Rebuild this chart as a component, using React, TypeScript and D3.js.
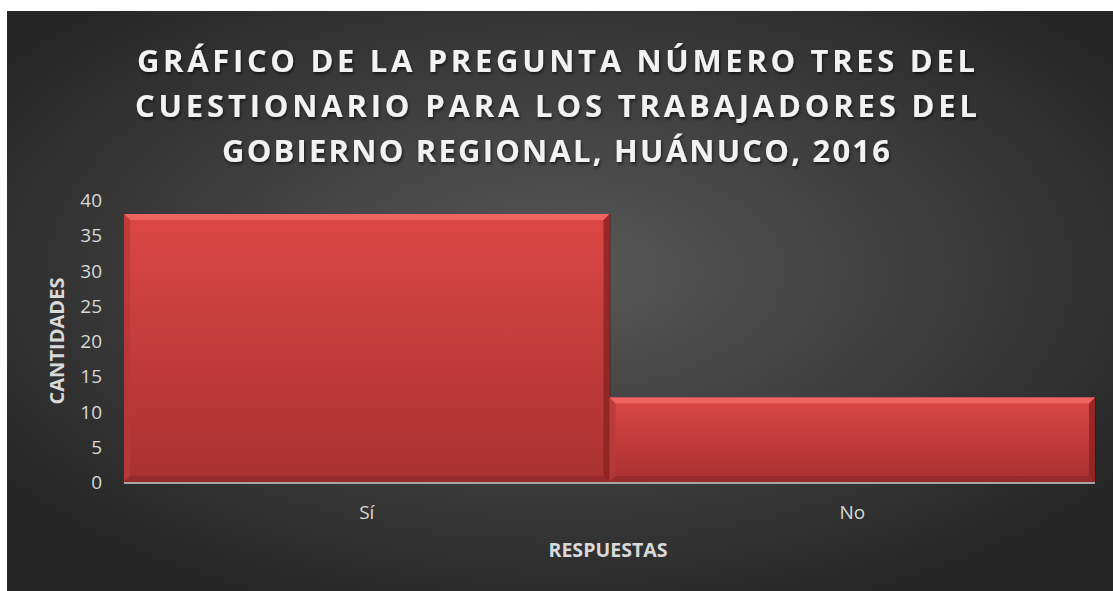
import React from "react";
import * as d3 from "d3";

const categories = ["Sí", "No"];
const values = [38, 12];
const yTicks = [0, 5, 10, 15, 20, 25, 30, 35, 40];
const titleLines = [
  "GRÁFICO DE LA PREGUNTA NÚMERO TRES DEL",
  "CUESTIONARIO PARA LOS TRABAJADORES DEL",
  "GOBIERNO REGIONAL, HUÁNUCO, 2016",
];
const xTitle = "RESPUESTAS";
const yTitle = "CANTIDADES";

const W = 1113;
const H = 591;
const font = "'Open Sans', sans-serif";

export default function App() {
  const x = d3.scaleBand<string>().domain(categories).range([124, 1095]).padding(0);
  const y = d3.scaleLinear().domain([0, 40]).range([482, 200]);

  // title line widths
  const titleWidths = [838, 842, 668];
  const bev = 6;

  return (
    <svg
      width={W}
      height={H}
      style={{ position: "absolute", left: 0, top: 0, background: "#fff" }}
    >
      <defs>
        <radialGradient id="bg" cx="0.5" cy="0.45" r="0.62" fx="0.5" fy="0.45">
          <stop offset="0" stopColor="#585858" />
          <stop offset="1" stopColor="#262626" />
        </radialGradient>
        <linearGradient id="bar" x1="0" y1="0" x2="0" y2="1">
          <stop offset="0" stopColor="#dc4745" />
          <stop offset="1" stopColor="#a83130" />
        </linearGradient>
        <filter id="tshadow" x="-5%" y="-20%" width="110%" height="150%">
          <feDropShadow dx="1" dy="2" stdDeviation="1.5" floodColor="#000" floodOpacity="0.6" />
        </filter>
      </defs>
      <rect x={7} y={11} width={W - 7} height={H - 11} fill="url(#bg)" />

      {titleLines.map((t, i) => (
        <text
          key={i}
          x={556}
          y={72 + i * 45}
          textAnchor="middle"
          fill="#f2f2f2"
          fontFamily={font}
          fontWeight="bold"
          fontSize={31}
          textLength={titleWidths[i]}
          lengthAdjust="spacing"
          filter="url(#tshadow)"
        >
          {t}
        </text>
      ))}

      {yTicks.map((t) => (
        <text
          key={t}
          x={102}
          y={y(t) + 7}
          textAnchor="end"
          fill="#d9d9d9"
          fontFamily={font}
          fontSize={19}
        >
          {t}
        </text>
      ))}

      {categories.map((c, i) => {
        const x0 = x(c)!;
        const x1 = x0 + x.bandwidth();
        const y0 = y(values[i]);
        const y1 = y(0);
        return (
          <g key={c}>
            <rect x={x0} y={y0} width={x1 - x0} height={y1 - y0} fill="url(#bar)" />
            <polygon
              points={`${x0},${y0} ${x1},${y0} ${x1 - bev},${y0 + bev} ${x0 + bev},${y0 + bev}`}
              fill="#f26a66"
              opacity={0.85}
            />
            <polygon
              points={`${x1},${y0} ${x1},${y1} ${x1 - bev},${y1 - bev} ${x1 - bev},${y0 + bev}`}
              fill="#8a2222"
              opacity={0.8}
            />
            <polygon
              points={`${x0},${y0} ${x0 + bev},${y0 + bev} ${x0 + bev},${y1 - bev} ${x0},${y1}`}
              fill="#b53a38"
              opacity={0.8}
            />
            <polygon
              points={`${x0},${y1} ${x0 + bev},${y1 - bev} ${x1 - bev},${y1 - bev} ${x1},${y1}`}
              fill="#8e2727"
              opacity={0.7}
            />
            <line x1={x1 + 0.5} x2={x1 + 0.5} y1={y0} y2={y1} stroke="#3a1010" strokeWidth={1} opacity={0.6} />
            <text
              x={x0 + x.bandwidth() / 2}
              y={519}
              textAnchor="middle"
              fill="#d9d9d9"
              fontFamily={font}
              fontSize={19}
            >
              {c}
            </text>
          </g>
        );
      })}

      <line x1={124} x2={1095} y1={483} y2={483} stroke="#a6a6a6" strokeWidth={2} />

      <text
        x={608}
        y={557}
        textAnchor="middle"
        fill="#d9d9d9"
        fontFamily={font}
        fontWeight="bold"
        fontSize={19}
        textLength={119}
        lengthAdjust="spacingAndGlyphs"
      >
        {xTitle}
      </text>
      <text
        transform={`translate(64,341) rotate(-90)`}
        textAnchor="middle"
        fill="#d9d9d9"
        fontFamily={font}
        fontWeight="bold"
        fontSize={19}
        textLength={127}
        lengthAdjust="spacingAndGlyphs"
      >
        {yTitle}
      </text>
    </svg>
  );
}
